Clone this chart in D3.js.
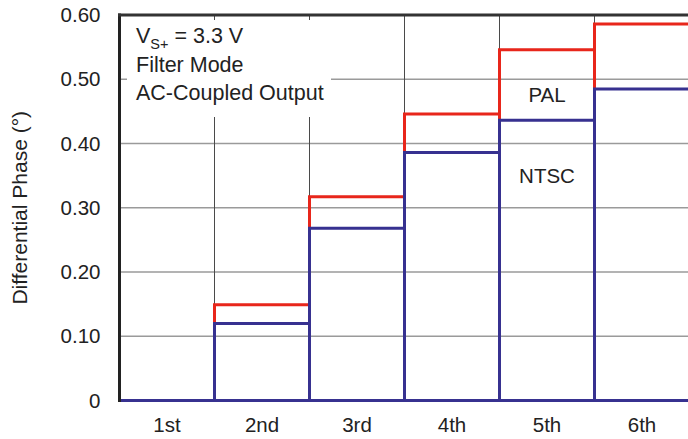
<!DOCTYPE html>
<html>
<head>
<meta charset="utf-8">
<script src="https://cdn.jsdelivr.net/npm/d3@7/dist/d3.min.js"></script>
<style>
  html, body { margin: 0; padding: 0; background: #fff; }
  svg { display: block; font-family: "Liberation Sans", Arial, Helvetica, sans-serif; }
</style>
</head>
<body>
<svg id="chart" width="688" height="439"></svg>
<script>
// Harmonic order categories and differential phase per standard (degrees)
const harmonics = ["1st", "2nd", "3rd", "4th", "5th", "6th"];
const palPhase  = [0, 0.149, 0.317, 0.446, 0.546, 0.586];
const ntscPhase = [0, 0.120, 0.268, 0.386, 0.436, 0.485];
const yTicks = [0, 0.1, 0.2, 0.3, 0.4, 0.5, 0.6];
const yTickLabels = ["0", "0.10", "0.20", "0.30", "0.40", "0.50", "0.60"];

const svg = d3.select("#chart");
const plotLeft = 119.5, plotRight = 689.5, plotTop = 15, plotBottom = 400.5;

const x = d3.scaleBand().domain(harmonics).range([plotLeft, plotRight]).padding(0);
const y = d3.scaleLinear().domain([0, 0.6]).range([plotBottom, plotTop]);

// Horizontal grid lines
svg.append("g").selectAll("line")
  .data(yTicks.slice(1, -1))
  .join("line")
  .attr("x1", plotLeft).attr("x2", plotRight)
  .attr("y1", d => y(d)).attr("y2", d => y(d))
  .attr("stroke", "#9a9a9a").attr("stroke-width", 1.3);

// Vertical grid lines at category boundaries
svg.append("g").selectAll("line")
  .data(harmonics.slice(1))
  .join("line")
  .attr("x1", d => x(d)).attr("x2", d => x(d))
  .attr("y1", plotTop).attr("y2", plotBottom)
  .attr("stroke", "#4a4a4a").attr("stroke-width", 1);

// Annotation panel masks the grid behind the text
svg.append("rect")
  .attr("x", 127).attr("y", 20)
  .attr("width", 204).attr("height", 97)
  .attr("fill", "#fff");

// Step outlines for each standard
function stepPath(v, i) {
  const x0 = x(harmonics[i]), x1 = x0 + x.bandwidth();
  return `M${x0},${y(0)}V${y(v)}H${x1}V${y(0)}Z`;
}
svg.append("g").selectAll("path")
  .data(palPhase)
  .join("path")
  .attr("d", stepPath)
  .attr("fill", "none")
  .attr("stroke", "#e8261b").attr("stroke-width", 3);
svg.append("g").selectAll("path")
  .data(ntscPhase)
  .join("path")
  .attr("d", stepPath)
  .attr("fill", "none")
  .attr("stroke", "#373190").attr("stroke-width", 3);

// Frame: left axis and top border
svg.append("line")
  .attr("x1", plotLeft).attr("x2", plotLeft).attr("y1", plotTop - 1.5).attr("y2", plotBottom + 1.5)
  .attr("stroke", "#222").attr("stroke-width", 3);
svg.append("line")
  .attr("x1", plotLeft - 1.5).attr("x2", plotRight).attr("y1", plotTop).attr("y2", plotTop)
  .attr("stroke", "#333").attr("stroke-width", 3);

// Y axis tick labels
const yAxis = d3.axisLeft(y).tickValues(yTicks)
  .tickFormat((d, i) => yTickLabels[i]).tickSize(0).tickPadding(19);
svg.append("g")
  .attr("transform", `translate(${plotLeft},0)`)
  .call(yAxis)
  .call(g => g.select(".domain").remove())
  .call(g => g.selectAll("text")
    .attr("font-size", 20.5).attr("fill", "#222")
    .attr("font-family", "'Liberation Sans', Arial, sans-serif"));

// X axis category labels
const xAxis = d3.axisBottom(x).tickSize(0).tickPadding(17);
svg.append("g")
  .attr("transform", `translate(0,${plotBottom})`)
  .call(xAxis)
  .call(g => g.select(".domain").remove())
  .call(g => g.selectAll("text")
    .attr("font-size", 20.5).attr("fill", "#222")
    .attr("font-family", "'Liberation Sans', Arial, sans-serif"));

// Y axis title
svg.append("text")
  .attr("transform", `translate(27,${(plotTop + plotBottom) / 2}) rotate(-90)`)
  .attr("text-anchor", "middle")
  .attr("font-size", 21).attr("fill", "#222")
  .text("Differential Phase (°)");

// Conditions annotation
const note = svg.append("g").attr("font-size", 21.5).attr("fill", "#222");
const vs = note.append("text").attr("x", 136).attr("y", 43);
vs.append("tspan").text("V");
vs.append("tspan").attr("font-size", 14.5).attr("dy", 6).text("S+");
vs.append("tspan").attr("dy", -6).text(" = 3.3 V");
note.append("text").attr("x", 136).attr("y", 72).text("Filter Mode");
note.append("text").attr("x", 136).attr("y", 100).text("AC-Coupled Output");

// Series labels
svg.append("text")
  .attr("x", x("5th") + x.bandwidth() / 2).attr("y", 102)
  .attr("text-anchor", "middle").attr("font-size", 20.5).attr("fill", "#222")
  .text("PAL");
svg.append("text")
  .attr("x", x("5th") + x.bandwidth() / 2).attr("y", 183)
  .attr("text-anchor", "middle").attr("font-size", 20.5).attr("fill", "#222")
  .text("NTSC");
</script>
</body>
</html>
